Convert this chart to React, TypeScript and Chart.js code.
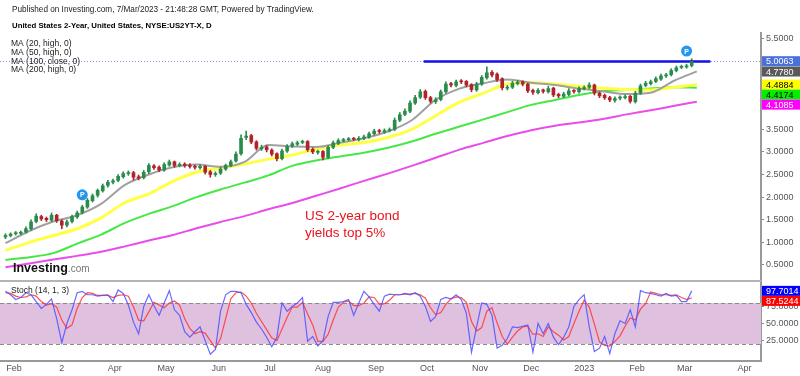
import React, { useEffect, useRef } from "react";
import { Chart, registerables } from "chart.js";

Chart.register(...registerables);

const FONT = '"Liberation Sans", Arial, sans-serif';

// ---- candles: one candle every 3 calendar days, day 0 = 1 Jan 2022 ----
const candleStartDay = 26;
const candleStepDays = 3;
const opens = [1.12,1.15,1.19,1.2,1.23,1.3,1.46,1.57,1.53,1.49,
1.6,1.47,1.38,1.46,1.56,1.66,1.78,1.92,2.04,2.14,
2.26,2.33,2.37,2.45,2.52,2.54,2.45,2.43,2.56,2.69,
2.66,2.6,2.71,2.78,2.7,2.73,2.7,2.68,2.65,2.68,
2.56,2.5,2.53,2.62,2.7,2.8,2.96,3.32,3.36,3.22,
3.07,3.11,3.04,2.96,2.85,3.02,3.13,3.17,3.21,3.23,
3.06,2.99,3.01,2.88,3.1,3.19,3.25,3.27,3.29,3.27,
3.3,3.33,3.4,3.47,3.44,3.47,3.5,3.7,3.83,3.9,
4.08,4.21,4.34,4.2,4.11,4.16,4.33,4.51,4.47,4.56,
4.56,4.49,4.37,4.5,4.64,4.76,4.72,4.62,4.41,4.43,
4.51,4.55,4.5,4.36,4.31,4.37,4.33,4.41,4.27,4.23,
4.27,4.36,4.33,4.4,4.43,4.48,4.3,4.25,4.2,4.14,
4.19,4.2,4.23,4.11,4.3,4.47,4.51,4.56,4.61,4.68,
4.71,4.8,4.87,4.88,4.91];
const highs = [1.19,1.21,1.24,1.25,1.34,1.5,1.63,1.6,1.56,1.65,
1.62,1.5,1.49,1.6,1.69,1.82,1.97,2.07,2.18,2.29,
2.37,2.4,2.5,2.56,2.58,2.57,2.49,2.59,2.74,2.72,
2.69,2.76,2.82,2.8,2.76,2.76,2.74,2.71,2.72,2.7,
2.59,2.56,2.66,2.73,2.82,3.0,3.38,3.46,3.39,3.25,
3.15,3.14,3.07,2.98,3.06,3.16,3.22,3.24,3.26,3.25,
3.09,3.04,3.03,3.14,3.24,3.29,3.3,3.32,3.32,3.34,
3.37,3.44,3.5,3.5,3.51,3.53,3.75,3.87,3.95,4.13,
4.25,4.38,4.37,4.23,4.2,4.37,4.55,4.54,4.59,4.6,
4.58,4.51,4.54,4.69,4.88,4.8,4.75,4.64,4.47,4.56,
4.58,4.57,4.52,4.39,4.4,4.39,4.45,4.43,4.3,4.32,
4.4,4.38,4.44,4.46,4.53,4.5,4.33,4.28,4.23,4.22,
4.24,4.26,4.25,4.34,4.5,4.56,4.59,4.66,4.72,4.74,
4.84,4.9,4.92,4.94,5.06];
const lows = [1.08,1.12,1.16,1.17,1.2,1.27,1.43,1.48,1.46,1.46,
1.44,1.3,1.34,1.43,1.53,1.63,1.75,1.89,2.0,2.11,
2.22,2.29,2.34,2.42,2.48,2.38,2.38,2.4,2.52,2.61,
2.56,2.57,2.68,2.66,2.67,2.66,2.64,2.62,2.62,2.51,
2.44,2.46,2.5,2.59,2.67,2.77,2.93,3.27,3.18,3.04,
3.03,3.0,2.91,2.8,2.82,2.99,3.1,3.14,3.18,3.01,
2.96,2.95,2.82,2.85,3.07,3.16,3.22,3.24,3.25,3.24,
3.27,3.3,3.37,3.41,3.41,3.44,3.47,3.67,3.8,3.87,
4.05,4.18,4.16,4.08,4.07,4.13,4.3,4.44,4.44,4.51,
4.44,4.33,4.34,4.47,4.61,4.66,4.56,4.37,4.37,4.4,
4.48,4.46,4.31,4.27,4.28,4.3,4.3,4.22,4.2,4.2,
4.24,4.3,4.3,4.37,4.4,4.26,4.2,4.16,4.11,4.1,
4.15,4.17,4.08,4.08,4.27,4.44,4.48,4.53,4.58,4.65,
4.68,4.77,4.84,4.85,4.88];
const closes = [1.15,1.18,1.2,1.22,1.3,1.45,1.58,1.52,1.5,1.6,
1.48,1.38,1.45,1.57,1.65,1.78,1.93,2.03,2.15,2.25,
2.33,2.36,2.46,2.52,2.53,2.44,2.42,2.55,2.7,2.65,
2.6,2.72,2.78,2.7,2.72,2.7,2.68,2.66,2.68,2.55,
2.5,2.52,2.62,2.7,2.78,2.95,3.3,3.35,3.22,3.08,
3.1,3.05,2.95,2.85,3.02,3.12,3.18,3.2,3.22,3.05,
3.0,3.0,2.88,3.1,3.2,3.25,3.26,3.28,3.28,3.3,
3.33,3.4,3.46,3.45,3.47,3.48,3.7,3.82,3.9,4.08,
4.2,4.33,4.2,4.12,4.15,4.33,4.5,4.48,4.55,4.55,
4.48,4.38,4.5,4.65,4.75,4.7,4.6,4.42,4.42,4.52,
4.54,4.5,4.35,4.32,4.36,4.34,4.4,4.26,4.24,4.28,
4.35,4.34,4.4,4.42,4.48,4.3,4.24,4.2,4.15,4.18,
4.2,4.22,4.12,4.3,4.46,4.52,4.55,4.62,4.68,4.7,
4.8,4.86,4.88,4.9,5.0];

// ---- moving averages ----
const maDays = [26,40,54,68,82,96,110,124,138,152,166,180,194,208,222,236,250,264,278,292,306,320,334,348,362,376,390,404,418,431];
const ma20 = [0.98,1.25,1.46,1.6,1.85,2.27,2.5,2.66,2.72,2.67,2.78,3.15,3.12,3.11,3.2,3.3,3.45,3.7,4.15,4.4,4.52,4.6,4.53,4.48,4.4,4.34,4.28,4.31,4.58,4.78];
const ma50 = [0.82,1.0,1.15,1.3,1.54,1.88,2.07,2.35,2.55,2.64,2.73,2.84,2.93,3.06,3.15,3.21,3.32,3.5,3.8,4.1,4.3,4.5,4.53,4.5,4.45,4.41,4.38,4.37,4.43,4.49];
const ma100 = [0.61,0.67,0.76,0.97,1.17,1.43,1.63,1.8,2.0,2.17,2.32,2.48,2.69,2.81,2.9,2.98,3.09,3.23,3.4,3.56,3.72,3.88,4.04,4.15,4.26,4.34,4.37,4.4,4.43,4.42];
const ma200 = [0.45,0.53,0.62,0.7,0.79,0.91,1.04,1.16,1.31,1.45,1.58,1.73,1.87,2.03,2.19,2.36,2.52,2.69,2.87,3.05,3.2,3.35,3.48,3.58,3.65,3.73,3.83,3.92,4.02,4.11];

// ---- stochastic (14,1,3) ----
const stochK = [97,92,85,88,95,92,82,72,78,86,
57,22,50,70,95,97,92,92,90,91,
92,82,99,94,77,52,35,75,92,76,
62,80,98,70,62,38,30,38,45,25,
5,12,68,92,97,97,95,78,66,52,
42,30,16,30,80,68,75,80,88,24,
31,17,25,60,81,81,82,85,62,80,
97,89,78,68,90,93,92,92,94,92,
95,90,75,53,60,85,88,86,92,85,
65,8,45,80,78,62,14,18,28,45,
44,46,48,8,50,35,50,30,19,30,
45,75,85,92,45,9,14,31,6,35,
54,50,70,45,98,95,94,92,90,94,
90,91,82,82,97.7];
const stochD = [95,94,90,88,89,92,90,82,77,79,
74,55,43,48,72,88,95,94,91,91,
91,88,91,92,90,74,55,54,67,81,
77,73,80,83,77,57,43,35,38,36,
25,14,28,57,86,95,96,90,80,65,
53,41,29,25,42,59,74,74,81,64,
48,24,24,34,55,74,81,83,76,76,
80,89,88,78,79,84,92,92,93,93,
94,92,87,73,63,66,78,86,89,88,
81,53,39,44,68,73,51,31,20,30,
39,45,46,34,35,31,45,38,33,26,
31,50,68,84,74,49,23,18,17,24,
32,46,58,55,71,79,96,94,92,92,
91,92,88,85,87.5];
const stochUpper = 80;
const stochLower = 20;

// ---- axes ----
const monthTickDays = [31,59,90,120,151,181,212,243,273,304,334,365,396,424,459];
const monthTickLabels = ["Feb","2","Apr","May","Jun","Jul","Aug","Sep","Oct","Nov","Dec","2023","Feb","Mar","Apr"];
const priceTicks = [0.5,1.0,1.5,2.0,2.5,3.0,3.5,4.0,4.5,5.0,5.5];
const stochTicks = [25,50,75];

// ---- annotations ----
const lastPrice = 5.0063;
const resistanceLevel = 5.0;
const resistanceFromDay = 271;
const resistanceToDay = 439;
const markerDays = [71, 425];
const markerValues = [2.05, 5.23];
const priceBadgeValues = [5.0063, 4.778, 4.4884, 4.4174, 4.1085];
const priceBadgeBg = ["#4a70dc", "#5a5a5a", "#ffff00", "#00f000", "#ff00ff"];
const priceBadgeFg = ["#ffffff", "#ffffff", "#000000", "#000000", "#ffffff"];
const stochBadgeValues = [97.7014, 87.5244];
const stochBadgeBg = ["#0000ff", "#ff0000"];
const maLegend = ["MA (20, high, 0)", "MA (50, high, 0)", "MA (100, close, 0)", "MA (200, high, 0)"];

const GREEN = "#2a8c4a";
const RED = "#b0232b";

function drawBadges(ctx: CanvasRenderingContext2D, scale: any, values: number[], bgs: string[], fgs: string[], x: number) {
  let prev = -1e9;
  values.forEach((v, i) => {
    let cy = scale.getPixelForValue(v);
    if (cy < prev + 10) cy = prev + 10;
    prev = cy;
    ctx.fillStyle = bgs[i];
    ctx.fillRect(x, cy - 5, 800 - x, 10);
    ctx.fillStyle = fgs[i];
    ctx.font = `9px ${FONT}`;
    ctx.textBaseline = "middle";
    ctx.textAlign = "left";
    ctx.fillText(v.toFixed(4), x + 4, cy + 0.5);
  });
}

const overlayPlugin = {
  id: "overlay",
  beforeDatasetsDraw(chart: any) {
    const { ctx, chartArea, scales } = chart;
    const y = scales.y;
    const y2 = scales.y2;
    const left = chartArea.left;
    const right = chartArea.right;
    ctx.save();
    const t = y2.getPixelForValue(stochUpper);
    const b = y2.getPixelForValue(stochLower);
    ctx.fillStyle = "#dfc1df";
    ctx.fillRect(left, t, right - left, b - t);
    ctx.strokeStyle = "#8a8a8a";
    ctx.lineWidth = 1;
    ctx.setLineDash([4, 3]);
    [t, b].forEach((yy) => {
      ctx.beginPath();
      ctx.moveTo(left, Math.round(yy) + 0.5);
      ctx.lineTo(right, Math.round(yy) + 0.5);
      ctx.stroke();
    });
    ctx.setLineDash([]);
    ctx.strokeStyle = "#b4b4b4";
    ctx.lineWidth = 2;
    ctx.beginPath();
    ctx.moveTo(0, y.bottom - 2);
    ctx.lineTo(right, y.bottom - 2);
    ctx.stroke();
    const py = Math.round(y.getPixelForValue(lastPrice)) + 0.5;
    ctx.strokeStyle = "#7f97e8";
    ctx.lineWidth = 1;
    ctx.setLineDash([1, 2]);
    ctx.beginPath();
    ctx.moveTo(0, py);
    ctx.lineTo(800, py);
    ctx.stroke();
    ctx.restore();
  },
  afterDraw(chart: any) {
    const { ctx, scales } = chart;
    const x = scales.x;
    const y = scales.y;
    const y2 = scales.y2;
    ctx.save();
    ctx.textAlign = "left";
    ctx.textBaseline = "middle";
    ctx.fillStyle = "#222";
    ctx.font = `8.2px ${FONT}`;
    ctx.fillText("Published on Investing.com, 7/Mar/2023 - 21:48:28 GMT, Powered by TradingView.", 12, 10);
    ctx.fillStyle = "#000";
    ctx.font = `bold 7.8px ${FONT}`;
    ctx.fillText("United States 2-Year, United States, NYSE:US2YT-X, D", 12, 26);
    ctx.font = `8.5px ${FONT}`;
    ctx.fillStyle = "#222";
    maLegend.forEach((s, i) => ctx.fillText(s, 11, 44 + i * 8.6));
    ctx.fillText("Stoch (14, 1, 3)", 11, 291);

    // markers
    markerDays.forEach((d, i) => {
      const mx = x.getPixelForValue(d);
      const my = y.getPixelForValue(markerValues[i]);
      ctx.beginPath();
      ctx.arc(mx, my, 5.5, 0, Math.PI * 2);
      ctx.fillStyle = "#2196f3";
      ctx.fill();
      ctx.fillStyle = "#fff";
      ctx.font = `bold 7px ${FONT}`;
      ctx.textAlign = "center";
      ctx.fillText("P", mx, my + 0.5);
    });

    // annotation
    ctx.textAlign = "left";
    ctx.textBaseline = "alphabetic";
    ctx.fillStyle = "#e8141c";
    ctx.font = `13.5px ${FONT}`;
    ctx.fillText("US 2-year bond", 305, 220);
    ctx.fillText("yields top 5%", 305, 237);

    // logo
    ctx.fillStyle = "#111";
    ctx.font = `bold 12.5px ${FONT}`;
    ctx.fillText("Investing", 13, 272);
    const w = ctx.measureText("Investing").width;
    ctx.fillStyle = "#777";
    ctx.font = `10px ${FONT}`;
    ctx.fillText(".com", 13 + w, 272);

    drawBadges(ctx, y, priceBadgeValues, priceBadgeBg, priceBadgeFg, 762);
    drawBadges(ctx, y2, stochBadgeValues, stochBadgeBg, ["#fff", "#fff"], 762);
    ctx.restore();
  },
};

export default function App() {
  const ref = useRef<HTMLCanvasElement>(null);
  useEffect(() => {
    document.body.style.margin = "0";
    const canvas = ref.current;
    if (!canvas) return;
    const candleDays = closes.map((_, i) => candleStartDay + i * candleStepDays);
    const colors = closes.map((c, i) => (c >= opens[i] ? GREEN : RED));
    const maLine = (vals: number[], color: string, width: number, order: number) => ({
      type: "line" as const,
      data: maDays.map((d, i) => ({ x: d, y: vals[i] })),
      borderColor: color,
      borderWidth: width,
      pointRadius: 0,
      cubicInterpolationMode: "monotone" as const,
      yAxisID: "y",
      order,
    });
    const yTicks = {
      autoSkip: false,
      padding: 2,
      color: "#555",
      font: { family: FONT, size: 9 },
      callback: (v: any) => Number(v).toFixed(4),
    };
    const chart = new Chart(canvas, {
      type: "bar",
      data: {
        datasets: [
          {
            type: "bar",
            data: candleDays.map((d, i) => ({ x: d, y: [lows[i], highs[i]] })) as any,
            backgroundColor: colors,
            barThickness: 1,
            grouped: false,
            yAxisID: "y",
            order: 1,
          },
          {
            type: "bar",
            data: candleDays.map((d, i) => ({ x: d, y: [opens[i], closes[i]] })) as any,
            backgroundColor: colors,
            barThickness: 3,
            minBarLength: 1,
            grouped: false,
            yAxisID: "y",
            order: 0,
          },
          maLine(ma200, "#ea4cea", 2, 5),
          maLine(ma100, "#45e845", 2, 4),
          maLine(ma50, "#ffff44", 3, 3),
          maLine(ma20, "#a0a0a0", 2, 2),
          {
            type: "line",
            data: [{ x: resistanceFromDay, y: resistanceLevel }, { x: resistanceToDay, y: resistanceLevel }],
            borderColor: "#1010e8",
            borderWidth: 2.5,
            pointRadius: 0,
            yAxisID: "y",
            order: 0,
          },
          {
            type: "line",
            data: candleDays.map((d, i) => ({ x: d, y: stochD[i] })),
            borderColor: "rgba(255,60,60,0.9)",
            borderWidth: 1.2,
            pointRadius: 0,
            yAxisID: "y2",
            order: 7,
          },
          {
            type: "line",
            data: candleDays.map((d, i) => ({ x: d, y: stochK[i] })),
            borderColor: "rgba(80,80,255,0.85)",
            borderWidth: 1.2,
            pointRadius: 0,
            yAxisID: "y2",
            order: 6,
          },
        ] as any,
      },
      options: {
        responsive: false,
        animation: false,
        events: [],
        layout: { padding: { top: 33, left: 0, right: 0, bottom: 0 } },
        plugins: { legend: { display: false }, tooltip: { enabled: false } },
        scales: {
          x: {
            type: "linear",
            min: 22.8,
            max: 468.6,
            offset: false,
            grid: { display: false, drawTicks: false },
            border: { display: true, color: "#999", width: 2 },
            afterBuildTicks: (axis: any) => {
              axis.ticks = monthTickDays.map((v) => ({ value: v }));
            },
            afterFit: (axis: any) => {
              axis.height = 15;
            },
            ticks: {
              autoSkip: false,
              maxRotation: 0,
              padding: 2,
              color: "#555",
              font: { family: FONT, size: 9 },
              callback: (_v: any, i: number) => monthTickLabels[i],
            },
          },
          y: {
            type: "linear",
            position: "right",
            stack: "panels",
            stackWeight: 250,
            min: 0.1,
            max: 5.63,
            grid: { display: true, drawOnChartArea: false, drawTicks: true, tickLength: 3, color: "#888" },
            border: { display: true, color: "#999", width: 2 },
            afterBuildTicks: (axis: any) => {
              axis.ticks = priceTicks.map((v) => ({ value: v }));
            },
            afterFit: (axis: any) => {
              axis.width = 39;
            },
            ticks: yTicks,
          },
          y2: {
            type: "linear",
            position: "right",
            stack: "panels",
            stackWeight: 78,
            min: -4.8,
            max: 109.2,
            grid: { display: true, drawOnChartArea: false, drawTicks: true, tickLength: 3, color: "#888" },
            border: { display: true, color: "#999", width: 2 },
            afterBuildTicks: (axis: any) => {
              axis.ticks = stochTicks.map((v) => ({ value: v }));
            },
            afterFit: (axis: any) => {
              axis.width = 39;
            },
            ticks: yTicks,
          },
        },
      } as any,
      plugins: [overlayPlugin],
    });
    return () => chart.destroy();
  }, []);
  return (
    <div style={{ width: 800, height: 376, background: "#fff" }}>
      <canvas ref={ref} width={800} height={376} style={{ display: "block" }} />
    </div>
  );
}
